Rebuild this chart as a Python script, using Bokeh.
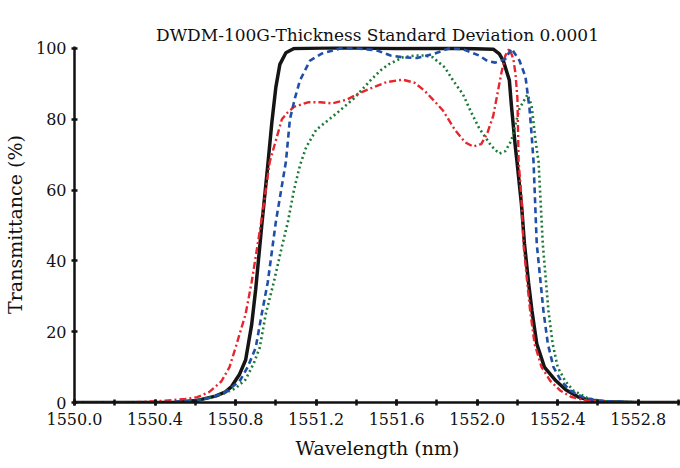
from bokeh.plotting import figure
from bokeh.models import FixedTicker, PrintfTickFormatter, Range1d, LinearAxis
from bokeh.embed import file_html
from bokeh.resources import INLINE

# ---- data (wavelength in nm, transmittance in %) ----
black_wl = [1550.00, 1550.30, 1550.50, 1550.61, 1550.70, 1550.75, 1550.78, 1550.82, 1550.85,
            1550.88, 1550.90, 1550.93, 1550.96, 1550.98, 1551.00, 1551.02, 1551.05, 1551.09,
            1551.30, 1551.60, 1551.90, 1552.08, 1552.11, 1552.13, 1552.16, 1552.17, 1552.19,
            1552.198, 1552.22, 1552.235, 1552.255, 1552.272, 1552.296, 1552.334, 1552.39,
            1552.44, 1552.50, 1552.56, 1552.64, 1552.80, 1553.01]
black_t = [0, 0, 0.1, 0.6, 1.8, 3.0, 4.5, 8, 12,
           22, 32, 50, 67, 79, 89, 95.5, 98.8, 100,
           100.2, 100, 100.1, 99.8, 98.5, 96.5, 91, 84, 72,
           68, 56, 44.8, 34, 26, 16.6, 10, 6.2,
           3.6, 1.6, 0.6, 0.2, 0, 0]

red_wl = [1550.00, 1550.30, 1550.45, 1550.55, 1550.61, 1550.67, 1550.73, 1550.77, 1550.80,
          1550.85, 1550.88, 1550.93, 1550.97, 1551.00, 1551.03, 1551.06, 1551.09, 1551.16,
          1551.22, 1551.28, 1551.35, 1551.42, 1551.47, 1551.55, 1551.63, 1551.69, 1551.74,
          1551.79, 1551.83, 1551.89, 1551.94, 1551.98, 1552.02, 1552.05, 1552.08, 1552.10,
          1552.12, 1552.14, 1552.16, 1552.18, 1552.19, 1552.20, 1552.206, 1552.22, 1552.23,
          1552.245, 1552.263, 1552.285, 1552.32, 1552.362, 1552.412, 1552.47, 1552.55,
          1552.70, 1553.01]
red_t = [0, 0.1, 0.5, 1.0, 1.5, 3, 6, 10, 15.5,
         25, 34, 52, 68, 74, 80, 82, 83.5, 84.8,
         84.8, 84.5, 85.5, 87.5, 88.7, 90.5, 91.2, 90.3, 88,
         85, 82.5, 77, 73.5, 72.3, 73, 76, 81, 87,
         93, 98, 100, 97, 93, 86, 68, 58, 44.8,
         36, 26, 16.6, 10, 6.2, 3.4, 1.5, 0.5,
         0.1, 0]

blue_wl = [1550.00, 1550.40, 1550.55, 1550.62, 1550.69, 1550.75, 1550.82, 1550.86, 1550.90,
           1550.93, 1550.96, 1551.00, 1551.05, 1551.07, 1551.095, 1551.12, 1551.17, 1551.23,
           1551.32, 1551.40, 1551.50, 1551.57, 1551.63, 1551.70, 1551.79, 1551.86, 1551.93,
           1552.01, 1552.05, 1552.09, 1552.14, 1552.17, 1552.21, 1552.24, 1552.26, 1552.27,
           1552.28, 1552.296, 1552.329, 1552.351, 1552.379, 1552.416, 1552.461, 1552.53,
           1552.60, 1552.75, 1553.01]
blue_t = [0, 0, 0.3, 0.8, 1.6, 3, 6, 10, 15.5,
          25, 34, 51, 68, 80, 86, 91, 96.6, 98.6,
          100, 100, 99.5, 98, 97.5, 97.3, 98.6, 100, 99.8,
          98, 96.5, 96, 97, 100, 96.6, 92, 83, 76,
          68, 44.8, 26, 16.6, 10, 6.2, 3.4, 1.4,
          0.5, 0.1, 0]

green_wl = [1550.00, 1550.45, 1550.60, 1550.68, 1550.74, 1550.80, 1550.85, 1550.89, 1550.92,
            1550.95, 1550.99, 1551.03, 1551.06, 1551.09, 1551.12, 1551.15, 1551.20, 1551.30,
            1551.39, 1551.47, 1551.52, 1551.56, 1551.63, 1551.69, 1551.74, 1551.78, 1551.84,
            1551.88, 1551.93, 1551.97, 1552.01, 1552.04, 1552.07, 1552.11, 1552.14, 1552.17,
            1552.21, 1552.25, 1552.27, 1552.29, 1552.305, 1552.326, 1552.354, 1552.375,
            1552.40, 1552.436, 1552.477, 1552.55, 1552.62, 1552.75, 1553.01]
green_t = [0, 0, 0.5, 1.4, 2.5, 4, 6.5, 11, 15.5,
           25, 34, 44, 51, 60, 67, 72, 77, 81.6,
           86, 91, 93.8, 95.5, 97.5, 98, 98, 97.5, 94.6,
           91, 87, 82, 77.5, 75, 72.5, 70.3, 71, 74,
           83, 87, 84, 74, 68, 44.8, 26, 16.6,
           10, 6.2, 3.4, 1.2, 0.4, 0.1, 0]

x_major = [1550.0, 1550.4, 1550.8, 1551.2, 1551.6, 1552.0, 1552.4, 1552.8]
x_minor = [1550.0, 1550.2, 1550.4, 1550.6, 1550.8, 1551.0, 1551.2, 1551.4, 1551.6, 1551.8,
           1552.0, 1552.2, 1552.4, 1552.6, 1552.8, 1553.0]
y_major = [0, 20, 40, 60, 80, 100]

title_text = "DWDM-100G-Thickness Standard Deviation 0.0001"
x_label = "Wavelength (nm)"
y_label = "Transmittance (%)"

FONT = "DejaVu Serif"

p = figure(width=680, height=468, output_backend="svg", toolbar_location=None,
           x_range=Range1d(1550.0, 1553.01), y_range=Range1d(0, 100.56),
           min_border_left=70, min_border_right=0, min_border_top=46, min_border_bottom=66,
           title=title_text)

# keep references to the real axes before adding the spacer
xa = p.below[0]
ya = p.left[0]

# invisible spacer axis above the frame, so the title sits higher
spacer = LinearAxis(ticker=FixedTicker(ticks=[], minor_ticks=[]), axis_line_color=None,
                    major_tick_line_color=None, minor_tick_line_color=None,
                    major_tick_in=0, major_tick_out=18, minor_tick_in=0, minor_tick_out=0,
                    major_label_standoff=0, major_label_text_font_size="1px",
                    major_label_text_color=None)
p.add_layout(spacer, "above")

p.title.text_font = FONT
p.title.text_font_size = "17px"
p.title.text_font_style = "normal"
p.title.align = "center"
p.title.vertical_align = "top"
p.title.text_color = "#111111"
p.title.standoff = 0

p.outline_line_color = None
p.xgrid.visible = False
p.ygrid.visible = False
p.background_fill_color = "white"
p.border_fill_color = "white"

# curves
p.line(black_wl, black_t, line_color="#151515", line_width=3.5)
p.line(green_wl, green_t, line_color="#1b7a36", line_width=2.6, line_dash="2 3")
p.line(red_wl, red_t, line_color="#e8252c", line_width=2.4, line_dash="7 3 2 3")
p.line(blue_wl, blue_t, line_color="#1f4fa6", line_width=2.6, line_dash="6 4")

# axes
xa.ticker = FixedTicker(ticks=x_major, minor_ticks=x_minor)
xa.formatter = PrintfTickFormatter(format="%.1f")
ya.ticker = FixedTicker(ticks=y_major, minor_ticks=[])

for ax in (xa, ya):
    ax.axis_line_width = 2.5
    ax.axis_line_color = "#111111"
    ax.major_tick_line_width = 2.5
    ax.major_tick_line_color = "#111111"
    ax.minor_tick_line_width = 2.5
    ax.minor_tick_line_color = "#111111"
    ax.major_tick_in = 3
    ax.major_tick_out = 3
    ax.minor_tick_in = 3
    ax.minor_tick_out = 3
    ax.major_label_text_font = FONT
    ax.major_label_text_font_size = "16px"
    ax.major_label_text_color = "#111111"
    ax.axis_label_text_font = FONT
    ax.axis_label_text_font_size = "19px"
    ax.axis_label_text_font_style = "normal"
    ax.axis_label_text_color = "#111111"

xa.axis_label = x_label
xa.major_label_standoff = 7
xa.axis_label_standoff = 9
ya.axis_label = y_label
ya.major_label_standoff = 5
ya.axis_label_standoff = 7

open("out.html", "w").write(file_html(p, INLINE))
